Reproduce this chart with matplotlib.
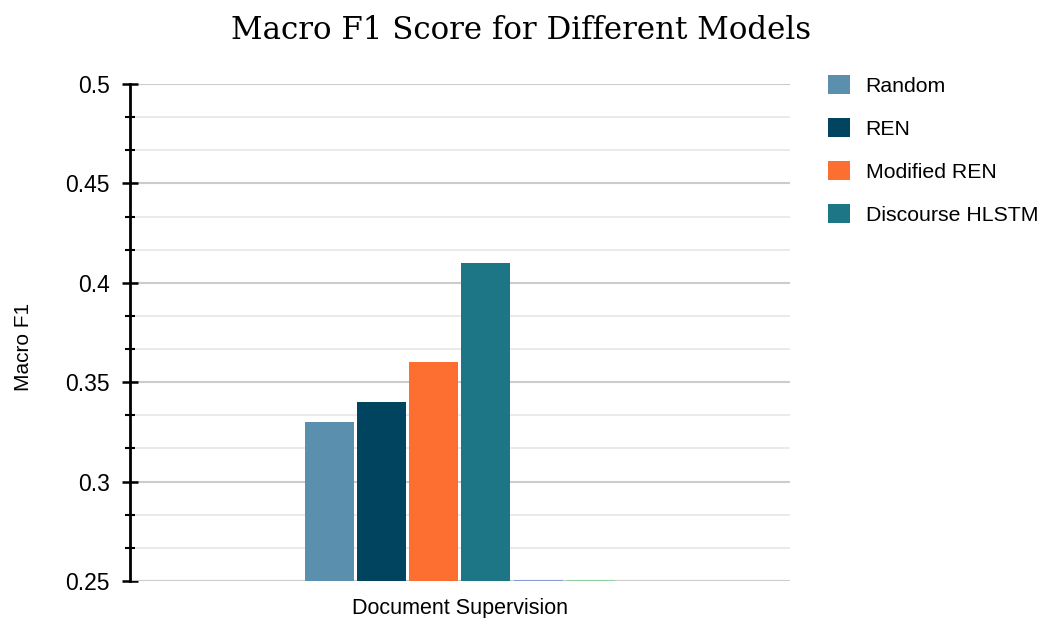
import numpy as np
import matplotlib.pyplot as plt
from matplotlib.ticker import AutoMinorLocator

# data
models = ['Random', 'REN', 'Modified REN', 'Discourse HLSTM']
scores = [0.33, 0.34, 0.36, 0.41]
colors = ['#5b8fae', '#01445f', '#fd6e31', '#1d7685']
# two unnamed series that sit on the baseline
extra_scores = [0.2505, 0.2505]
extra_colors = ['#8a9ad6', '#93cfa4']
category = 'Document Supervision'
base = 0.25

fig = plt.figure(figsize=(10.43, 6.18), dpi=100)
ax = fig.add_axes([0.1246, 0.0599, 0.6326, 0.8042])

all_scores = scores + extra_scores
all_colors = colors + extra_colors
x = np.arange(len(all_scores))
bars = ax.bar(x, np.array(all_scores) - base, bottom=base, width=0.94,
              color=all_colors, zorder=3)
handles = bars[:len(models)]

center = (len(all_scores) - 1) / 2
ax.set_xlim(center - 6.33, center + 6.33)
ax.set_ylim(0.25, 0.5)
ax.set_xticks([center])
ax.set_xticklabels([category], fontsize=15.5, family='Liberation Sans')
ax.tick_params(axis='x', length=0, pad=12)

ax.set_yticks([0.25, 0.3, 0.35, 0.4, 0.45, 0.5])
ax.set_yticklabels(['0.25', '0.3', '0.35', '0.4', '0.45', '0.5'],
                   fontsize=16.5, family='Liberation Sans')
ax.yaxis.set_minor_locator(AutoMinorLocator(3))
ax.tick_params(axis='y', which='major', length=11, width=1.8, direction='inout', pad=9)
ax.tick_params(axis='y', which='minor', length=7, width=1.5, direction='inout')
ax.grid(axis='y', which='major', color='#cccccc', linewidth=1.5, zorder=0)
ax.grid(axis='y', which='minor', color='#e6e6e6', linewidth=1.2, zorder=0)

for s in ['top', 'right', 'bottom']:
    ax.spines[s].set_visible(False)
ax.spines['left'].set_linewidth(2)
ax.axhline(base, color='#cccccc', linewidth=1.5, zorder=2)

ax.set_ylabel('Macro F1', fontsize=15, family='Liberation Sans')
ax.yaxis.set_label_coords(-0.147, 0.47)

fig.suptitle('Macro F1 Score for Different Models', fontsize=22.2,
             family='DejaVu Serif', x=0.5, y=0.975)

leg = fig.legend(handles, models, loc='upper left', bbox_to_anchor=(0.776, 0.910),
                 frameon=False, prop={'family': 'Liberation Sans', 'size': 15.3},
                 handlelength=1.0, handleheight=1.0, labelspacing=1.05,
                 handletextpad=0.75)

fig.savefig('out.png', dpi=100)
